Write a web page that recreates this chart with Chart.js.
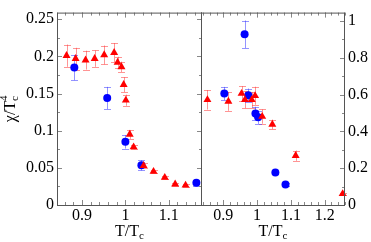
<!DOCTYPE html>
<html><head><meta charset="utf-8">
<script src="https://cdn.jsdelivr.net/npm/chart.js@4.4.1/dist/chart.umd.min.js"></script>
<style>
html,body{margin:0;padding:0;background:#fff;width:371px;height:242px;overflow:hidden}
#wl{position:absolute;left:0;top:0;width:202px;height:242px}
#wr{position:absolute;left:201px;top:0;width:170px;height:242px}
</style></head><body>
<div id="wl"><canvas id="cl"></canvas></div>
<div id="wr"><canvas id="cr"></canvas></div>
<script>
// ---- Left panel data ----
const leftTriT   = [0.864, 0.885, 0.908, 0.929, 0.951, 0.974, 0.982, 0.991, 0.996, 1.001, 1.010, 1.019, 1.042, 1.065, 1.091, 1.115, 1.139];
const leftTriChi = [0.201, 0.197, 0.195, 0.197, 0.202, 0.205, 0.192, 0.186, 0.162, 0.141, 0.095, 0.078, 0.053, 0.045, 0.037, 0.028, 0.0265];
const leftTriErr = [0.015, 0.0146, 0.0127, 0.011, 0.0127, 0.013, 0.0075, 0.007, 0.010, 0.0075, 0.006, 0.003, 0.003, 0.002, 0.002, 0.002, 0.002];
const leftCircT   = [0.882, 0.958, 1.000, 1.037, 1.164];
const leftCircChi = [0.185, 0.144, 0.085, 0.0535, 0.030];
const leftCircErr = [0.017, 0.015, 0.009, 0.007, 0.004];
const leftXTicks = [0.9, 1.0, 1.1];
const leftXLabels = ["0.9", "1", "1.1"];
const leftYTicks = [0, 0.05, 0.1, 0.15, 0.2, 0.25];
const leftYLabels = ["0", "0.05", "0.1", "0.15", "0.2", "0.25"];

// ---- Right panel data ----
const rightTriT   = [0.853, 0.915, 0.954, 0.964, 0.984, 0.994, 1.015, 1.045, 1.114, 1.253];
const rightTriChi = [0.572, 0.563, 0.606, 0.572, 0.572, 0.594, 0.481, 0.438, 0.268, 0.061];
const rightTriErr = [0.053, 0.051, 0.040, 0.046, 0.042, 0.049, 0.039, 0.026, 0.028, 0.006];
const rightCircT   = [0.903, 0.963, 0.974, 0.995, 1.003, 1.054, 1.084];
const rightCircChi = [0.606, 0.928, 0.597, 0.498, 0.477, 0.177, 0.112];
const rightCircErr = [0.036, 0.075, 0.036, 0.036, 0.036, 0.006, 0.006];
const rightXTicks = [0.9, 1.0, 1.1, 1.2];
const rightXLabels = ["0.9", "1", "1.1", "1.2"];
const rightYTicks = [0, 0.2, 0.4, 0.6, 0.8, 1.0];
const rightYLabels = ["0", "0.2", "0.4", "0.6", "0.8", "1"];

const xTitle = ["T/T", "c"];
const yTitle = ["χ/T", "c", "4"];

const RED = '#ff0000', BLUE = '#0000ff';
const RED_E = 'rgba(255,60,60,0.55)', BLUE_E = 'rgba(60,60,255,0.55)';
const FONT = '"Liberation Serif","DejaVu Serif",serif';
const FRAME = '#555', TICK = '#888';

function pts(xs, ys) { return xs.map((x, i) => ({ x: x, y: ys[i] })); }

const errorBars = {
  id: 'errorBars',
  beforeDatasetsDraw(chart) {
    const ctx = chart.ctx, xs = chart.scales.x, ys = chart.scales.y;
    ctx.save();
    ctx.lineWidth = 1;
    chart.data.datasets.forEach(ds => {
      if (!ds.errors) return;
      ctx.strokeStyle = ds.errorColor;
      ds.data.forEach((p, i) => {
        const e = ds.errors[i];
        const px = Math.round(xs.getPixelForValue(p.x)) + 0.5;
        const y1 = ys.getPixelForValue(p.y + e), y2 = ys.getPixelForValue(p.y - e);
        ctx.beginPath();
        ctx.moveTo(px, y1); ctx.lineTo(px, y2);
        ctx.moveTo(px - 3.5, Math.round(y1) + 0.5); ctx.lineTo(px + 3.5, Math.round(y1) + 0.5);
        ctx.moveTo(px - 3.5, Math.round(y2) + 0.5); ctx.lineTo(px + 3.5, Math.round(y2) + 0.5);
        ctx.stroke();
      });
    });
    ctx.restore();
  }
};

const frameTicks = {
  id: 'frameTicks',
  afterDraw(chart, args, o) {
    const ctx = chart.ctx, a = chart.chartArea, xs = chart.scales.x, ys = chart.scales.y;
    ctx.save();
    ctx.lineWidth = 1;
    ctx.strokeStyle = TICK;
    ctx.beginPath();
    const xt = (v, len) => {
      const px = Math.round(xs.getPixelForValue(v)) + 0.5;
      ctx.moveTo(px, a.bottom); ctx.lineTo(px, a.bottom - len);
      ctx.moveTo(px, a.top); ctx.lineTo(px, a.top + len);
    };
    for (let k = 0; k < o.xMinor.length; k++) xt(o.xMinor[k], 3);
    for (let k = 0; k < o.xMajor.length; k++) xt(o.xMajor[k], 5);
    const yt = (v, len) => {
      const py = Math.round(ys.getPixelForValue(v)) + 0.5;
      if (o.yInLeft) { ctx.moveTo(a.left, py); ctx.lineTo(a.left + len, py); }
      if (o.yInRight) { ctx.moveTo(a.right, py); ctx.lineTo(a.right - len, py); }
    };
    for (let k = 0; k < o.yMinor.length; k++) yt(o.yMinor[k], 3);
    for (let k = 0; k < o.yMajor.length; k++) yt(o.yMajor[k], 5);
    ctx.stroke();
    ctx.strokeStyle = FRAME;
    ctx.beginPath();
    ctx.moveTo(a.left + 0.5, a.top); ctx.lineTo(a.left + 0.5, a.bottom + 0.5);
    ctx.moveTo(a.left, a.bottom + 0.5); ctx.lineTo(a.right, a.bottom + 0.5);
    ctx.moveTo(a.right - 0.5, a.top); ctx.lineTo(a.right - 0.5, a.bottom + 0.5);
    ctx.moveTo(a.left, a.top + 0.5); ctx.lineTo(a.right, a.top + 0.5);
    ctx.stroke();
    ctx.fillStyle = '#000';
    ctx.textBaseline = 'alphabetic';
    ctx.font = '16px ' + FONT;
    const w1 = ctx.measureText(xTitle[0]).width;
    ctx.font = '11px ' + FONT;
    const w2 = ctx.measureText(xTitle[1]).width;
    let x0 = (a.left + a.right) / 2 - (w1 + w2) / 2;
    const by = 236;
    ctx.font = '16px ' + FONT; ctx.textAlign = 'left';
    ctx.fillText(xTitle[0], x0, by);
    ctx.font = '11px ' + FONT;
    ctx.fillText(xTitle[1], x0 + w1, by + 3);
    if (o.yTitle) {
      ctx.save();
      ctx.translate(15, (a.top + a.bottom) / 2);
      ctx.rotate(-Math.PI / 2);
      ctx.font = '16px ' + FONT;
      const t1 = ctx.measureText(yTitle[0]).width;
      ctx.font = '11px ' + FONT;
      const t2 = ctx.measureText(yTitle[1]).width;
      const t3 = ctx.measureText(yTitle[2]).width;
      let s = -(t1 + Math.max(t2, t3)) / 2;
      ctx.font = '16px ' + FONT;
      ctx.fillText(yTitle[0], s, 0);
      ctx.font = '11px ' + FONT;
      ctx.fillText(yTitle[1], s + t1, 3);
      ctx.fillText(yTitle[2], s + t1, -8);
      ctx.restore();
    }
    ctx.restore();
  }
};

function range(a, b, s) { const r = []; for (let v = a; v <= b + 1e-9; v += s) r.push(Math.round(v * 1000) / 1000); return r; }

function tickAxis(min, max, ticks, labels, pos, size, pad) {
  return {
    type: 'linear', position: pos, min: min, max: max,
    grid: { display: false, drawTicks: false },
    border: { display: false },
    ticks: { font: { family: FONT, size: 16 }, color: '#000', padding: pad, autoSkip: false, maxRotation: 0,
      callback: (v, i) => labels[i] },
    afterBuildTicks: s => { s.ticks = ticks.map(v => ({ value: v })); },
    afterFit: s => { if (pos === 'bottom') s.height = size; else s.width = size; }
  };
}

function datasets(triT, triC, triE, cT, cC, cE) {
  return [
    { data: pts(triT, triC), errors: triE, errorColor: RED_E, showLine: false, clip: false,
      pointStyle: 'triangle', pointRadius: 4.6, backgroundColor: RED, borderColor: RED, borderWidth: 0 },
    { data: pts(cT, cC), errors: cE, errorColor: BLUE_E, showLine: false, clip: false,
      pointStyle: 'circle', pointRadius: 4, backgroundColor: BLUE, borderColor: BLUE, borderWidth: 0 }
  ];
}

const common = { responsive: true, maintainAspectRatio: false, animation: false, events: [] };

new Chart(document.getElementById('cl'), {
  type: 'scatter',
  data: { datasets: datasets(leftTriT, leftTriChi, leftTriErr, leftCircT, leftCircChi, leftCircErr) },
  options: Object.assign({}, common, {
    layout: { autoPadding: false, padding: { top: 1, left: 0, right: 0, bottom: 0 } },
    scales: {
      x: tickAxis(0.842, 1.177, leftXTicks, leftXLabels, 'bottom', 37, 1),
      y: tickAxis(0, 0.259, leftYTicks, leftYLabels, 'left', 57, 3)
    },
    plugins: { legend: { display: false }, tooltip: { enabled: false },
      frameTicks: { xMajor: leftXTicks, xMinor: range(0.86, 1.16, 0.02), yMajor: leftYTicks, yMinor: range(0.025, 0.25, 0.025),
        yInLeft: true, yInRight: true, yTitle: true } }
  }),
  plugins: [errorBars, frameTicks]
});

new Chart(document.getElementById('cr'), {
  type: 'scatter',
  data: { datasets: datasets(rightTriT, rightTriChi, rightTriErr, rightCircT, rightCircChi, rightCircErr) },
  options: Object.assign({}, common, {
    layout: { autoPadding: false, padding: { top: 1, left: 0, right: 0, bottom: 0 } },
    scales: {
      x: tickAxis(0.834, 1.26, rightXTicks, rightXLabels, 'bottom', 37, 1),
      y: tickAxis(0, 1.046, rightYTicks, rightYLabels, 'right', 26, 3)
    },
    plugins: { legend: { display: false }, tooltip: { enabled: false },
      frameTicks: { xMajor: rightXTicks, xMinor: range(0.84, 1.26, 0.02), yMajor: rightYTicks, yMinor: range(0.1, 1.0, 0.1),
        yInLeft: false, yInRight: true, yTitle: false } }
  }),
  plugins: [errorBars, frameTicks]
});
</script>
</body></html>
